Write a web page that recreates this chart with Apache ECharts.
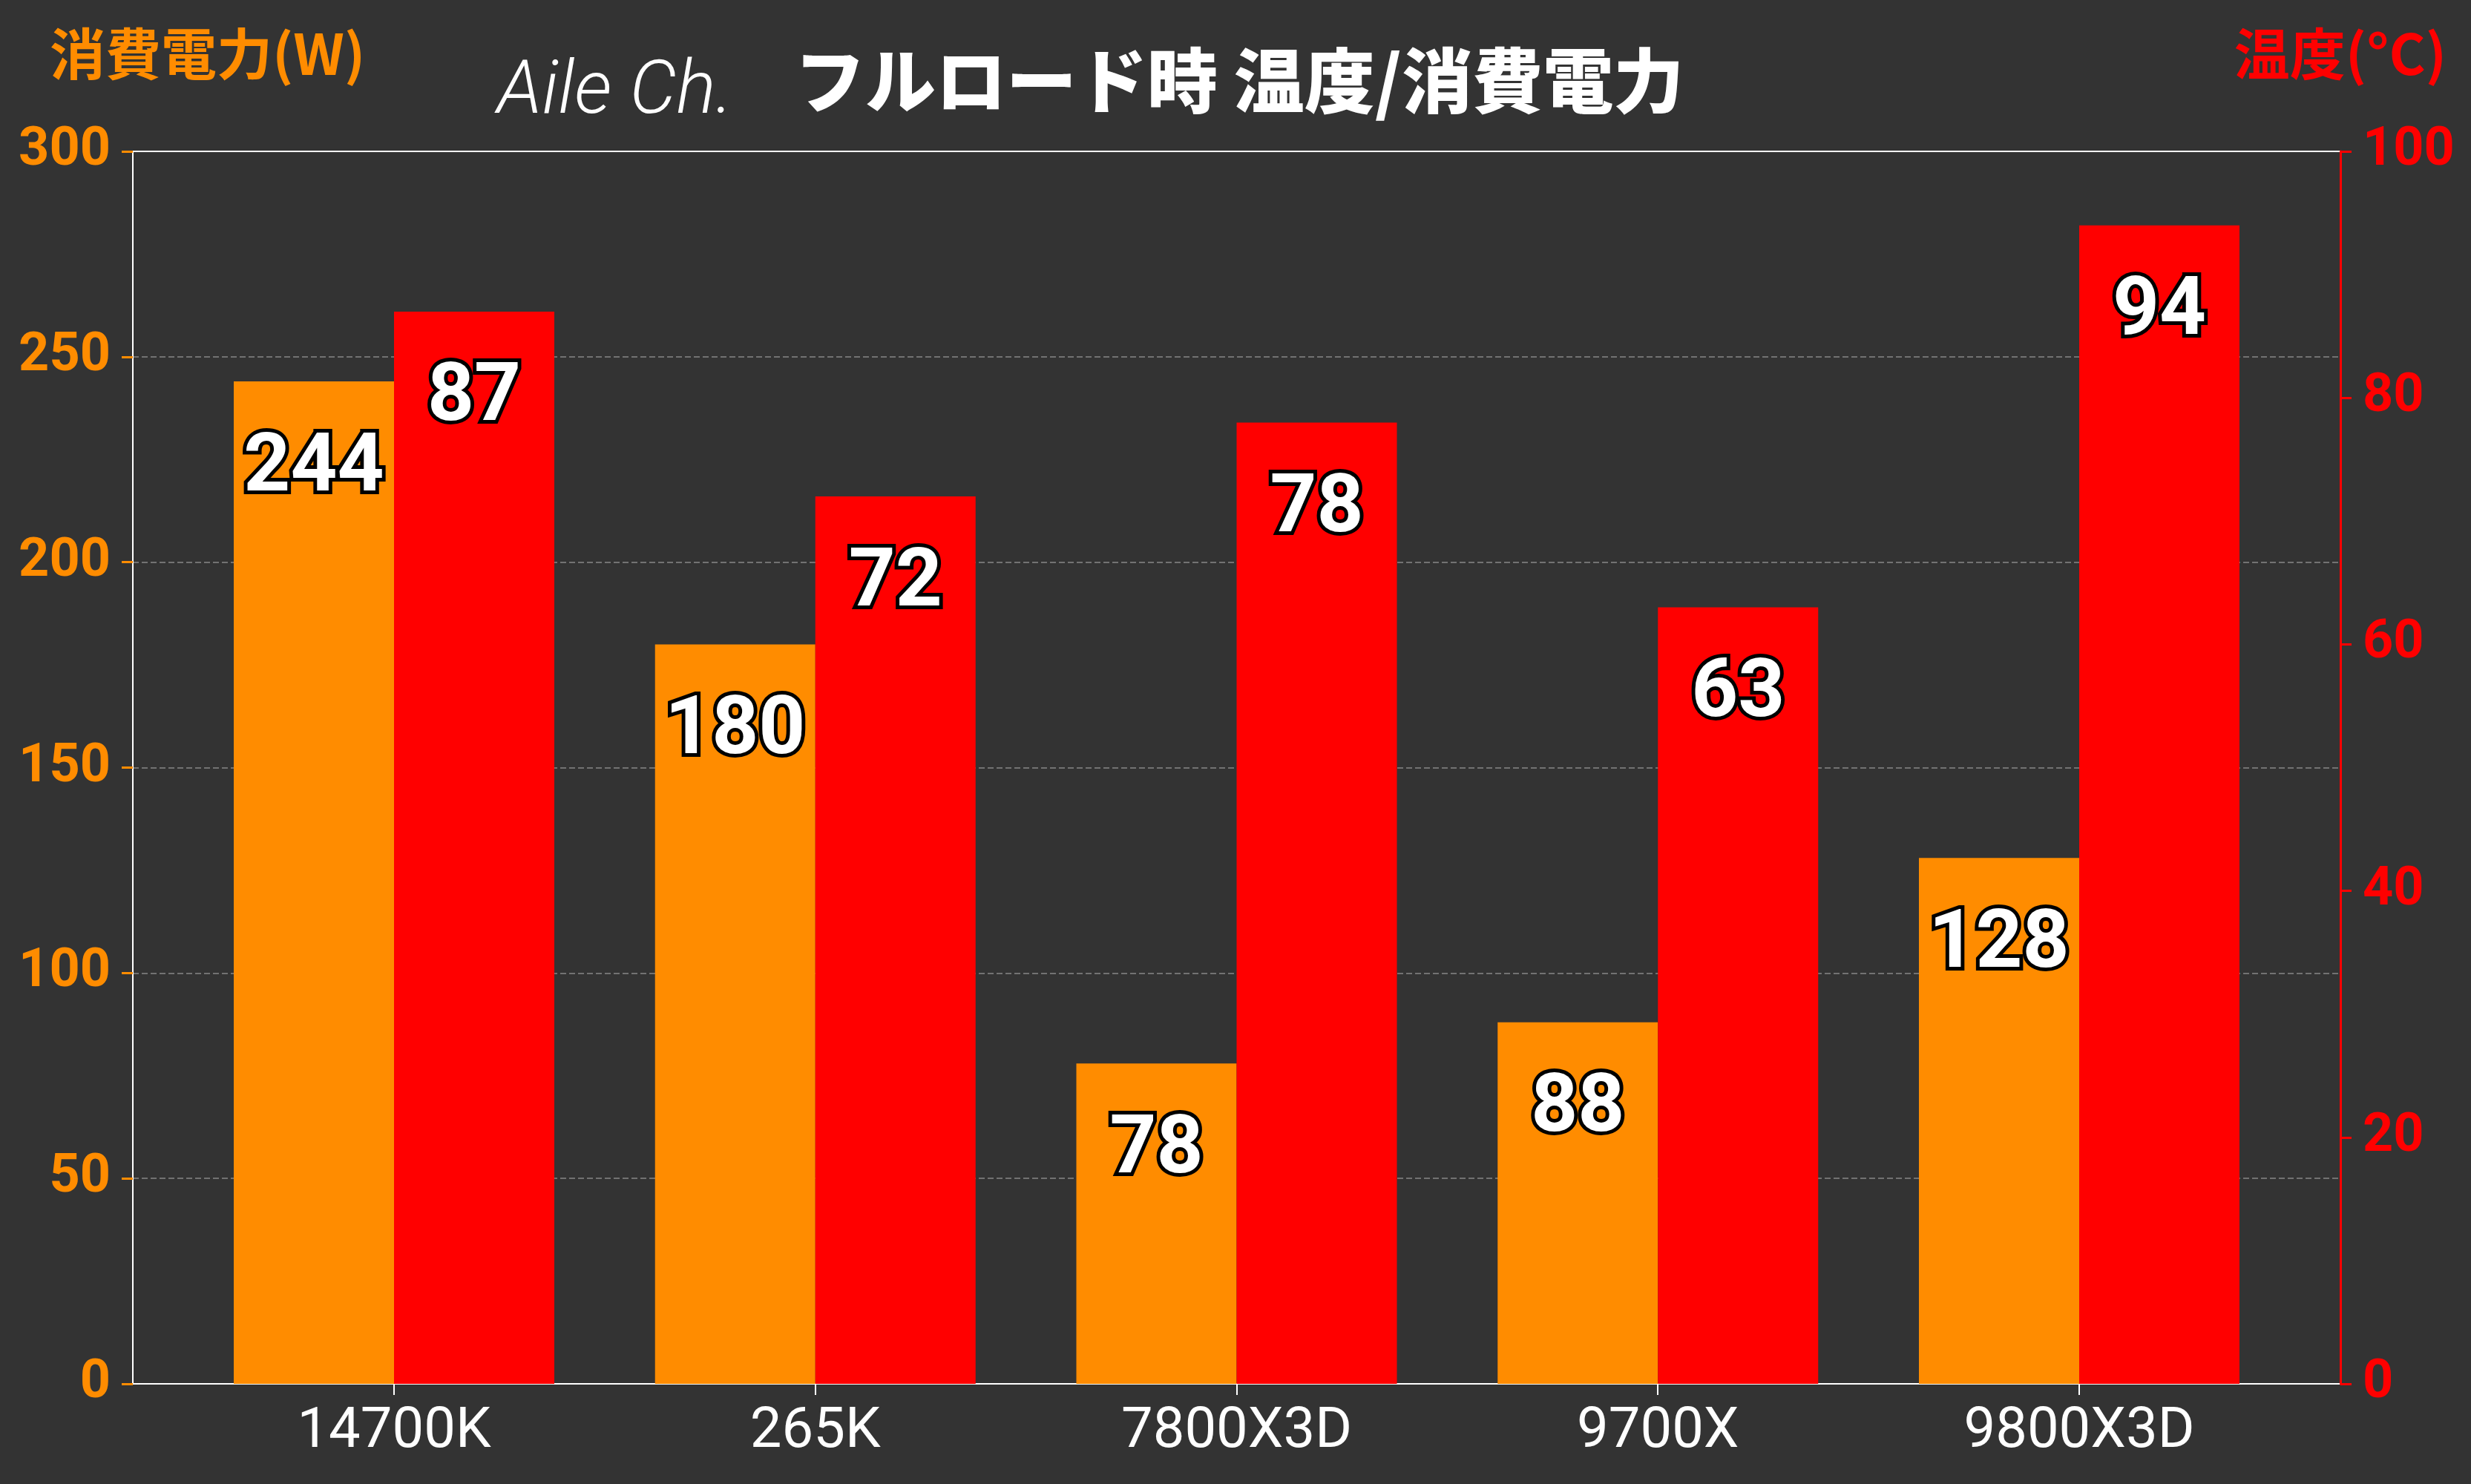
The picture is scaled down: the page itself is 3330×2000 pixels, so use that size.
<!DOCTYPE html>
<html>
<head>
<meta charset="utf-8">
<script src="https://cdn.jsdelivr.net/npm/echarts@6/dist/echarts.min.js"></script>
<style>
  html, body { margin: 0; padding: 0; background: #333333; }
  #chart { width: 3330px; height: 2000px; }
</style>
</head>
<body>
<div id="chart"></div>
<script>
const categories = ['14700K', '265K', '7800X3D', '9700X', '9800X3D'];
const powerW = [244, 180, 78, 88, 128];
const tempC = [87, 72, 78, 63, 94];
const powerTicks = [0, 50, 100, 150, 200, 250, 300];
const tempTicks = [0, 20, 40, 60, 80, 100];

const ORANGE = '#ff8c00';
const RED = '#ff0000';
const NUM_FONT = 'Roboto, "DejaVu Sans", sans-serif';
const JP_FONT = '"Noto Sans CJK JP", "Noto Sans", sans-serif';

const catIdx = categories.map((c, i) => i);

const dataLabel = {
  show: true,
  position: 'insideTop',
  distance: 64,
  color: '#fff',
  fontFamily: NUM_FONT,
  fontWeight: 'bold',
  fontSize: 110,
  textBorderColor: '#000',
  textBorderWidth: 10
};

const chart = echarts.init(document.getElementById('chart'));
chart.setOption({
  backgroundColor: '#333333',
  animation: false,
  title: [
    {
      text: 'フルロード時 温度/消費電力',
      left: 1066,
      top: 56,
      textStyle: { color: '#fff', fontFamily: JP_FONT, fontWeight: 900, fontSize: 95 }
    },
    {
      text: 'Aile Ch.',
      left: 665,
      top: 72,
      textStyle: { color: '#fff', fontFamily: NUM_FONT, fontWeight: 300, fontStyle: 'italic', fontSize: 100 }
    },
    {
      text: '消費電力(W)',
      left: 62,
      top: 30,
      textStyle: { color: ORANGE, fontFamily: JP_FONT, fontWeight: 'bold', fontSize: 75 }
    },
    {
      text: '温度(°C)',
      right: 28,
      top: 30,
      textStyle: { color: RED, fontFamily: JP_FONT, fontWeight: 'bold', fontSize: 75 }
    }
  ],
  grid: {
    left: 179, right: 176, top: 204, bottom: 135,
    show: true, borderColor: '#ffffff', borderWidth: 2, backgroundColor: 'transparent'
  },
  xAxis: {
    type: 'value',
    min: -0.62,
    max: categories.length - 1 + 0.62,
    axisLine: { show: true, onZero: false, lineStyle: { color: '#fff', width: 2 } },
    axisTick: { show: true, customValues: catIdx, length: 15, lineStyle: { color: '#fff', width: 2 } },
    axisLabel: {
      customValues: catIdx,
      formatter: v => categories[Math.round(v)],
      color: '#fff', fontFamily: NUM_FONT, fontSize: 76, margin: 28
    },
    splitLine: { show: false }
  },
  yAxis: [
    {
      type: 'value',
      min: powerTicks[0],
      max: powerTicks[powerTicks.length - 1],
      interval: 50,
      position: 'left',
      axisLine: { show: true, onZero: false, lineStyle: { color: '#fff', width: 2 } },
      axisTick: { show: true, length: 15, lineStyle: { color: ORANGE, width: 3 } },
      axisLabel: { color: ORANGE, fontFamily: NUM_FONT, fontWeight: 'bold', fontSize: 72, margin: 30 },
      splitLine: {
        show: true, showMinLine: false, showMaxLine: false,
        lineStyle: { color: '#888', width: 1.5, type: [8, 4] }
      }
    },
    {
      type: 'value',
      min: tempTicks[0],
      max: tempTicks[tempTicks.length - 1],
      interval: 20,
      position: 'right',
      z: 10,
      axisLine: { show: true, onZero: false, lineStyle: { color: RED, width: 3 } },
      axisTick: { show: true, length: 15, lineStyle: { color: RED, width: 3 } },
      axisLabel: { color: RED, fontFamily: NUM_FONT, fontWeight: 'bold', fontSize: 72, margin: 30 },
      splitLine: { show: false }
    }
  ],
  series: [
    {
      name: '消費電力',
      type: 'bar',
      yAxisIndex: 0,
      barWidth: 216,
      barGap: '0%',
      itemStyle: { color: ORANGE },
      label: dataLabel,
      data: powerW.map((v, i) => [i, v])
    },
    {
      name: '温度',
      type: 'bar',
      yAxisIndex: 1,
      barWidth: 216,
      barGap: '0%',
      itemStyle: { color: RED },
      label: dataLabel,
      data: tempC.map((v, i) => [i, v])
    }
  ]
});
</script>
</body>
</html>
